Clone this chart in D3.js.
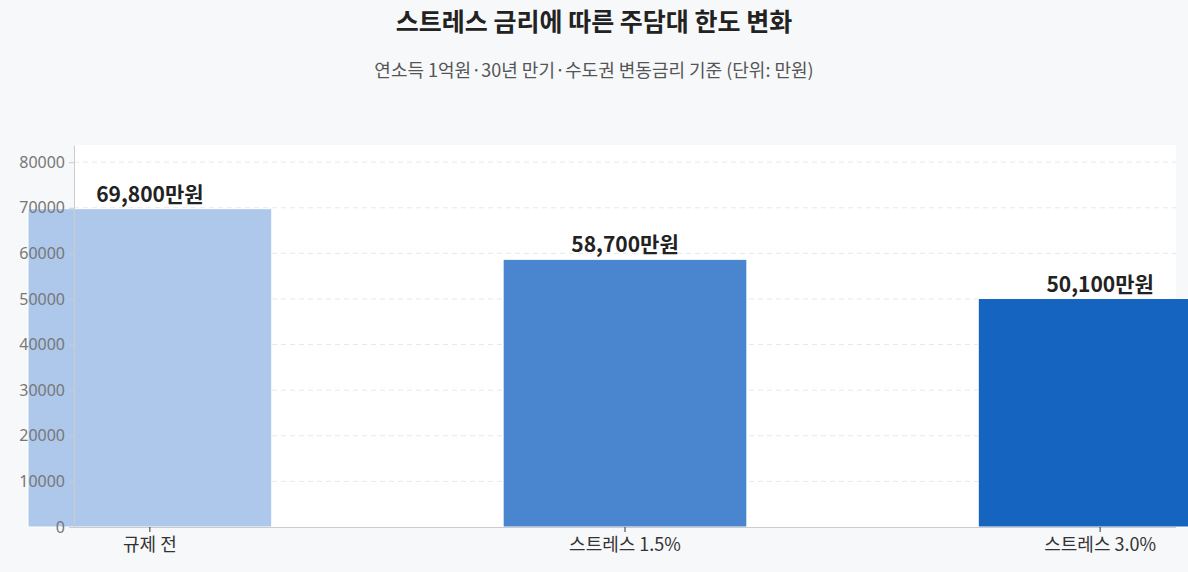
<!DOCTYPE html>
<html><head><meta charset="utf-8">
<script src="https://cdn.jsdelivr.net/npm/d3@7"></script>
<style>body{margin:0;background:#f7f8fa;font-family:"Noto Sans CJK KR","Noto Sans",sans-serif;}</style>
</head><body><svg id="c" width="1188" height="572"></svg>
<script>
const categories=["규제 전","스트레스 1.5%","스트레스 3.0%"];
const values=[69800,58700,50100];
const colors=["#aec8ec","#4a86d0","#1565c0"];
const yTicks=[0,10000,20000,30000,40000,50000,60000,70000,80000];
const svg=d3.select("#c");
const m={l:74,r:12,t:145,b:45};
const W=1188,H=572;
const x=d3.scaleBand().domain(categories).range([m.l-46,W-m.r+46]).paddingInner(0.487).paddingOuter(0);
const y=d3.scaleLinear().domain([0,69800*1.2]).range([H-m.b,m.t]);
svg.append("text").attr("x",W/2).attr("y",31).attr("text-anchor","middle").attr("font-size",25).attr("font-weight",700).attr("fill","#222").text("스트레스 금리에 따른 주담대 한도 변화");
svg.append("text").attr("x",W/2).attr("y",77).attr("text-anchor","middle").attr("font-size",18).attr("fill","#555").text("연소득 1억원·30년 만기·수도권 변동금리 기준 (단위: 만원)");
svg.append("rect").attr("x",m.l).attr("y",m.t).attr("width",W-m.r-m.l).attr("height",H-m.b-m.t).attr("fill","#fff");
svg.append("g").selectAll("line").data(yTicks.slice(1)).join("line").attr("x1",m.l).attr("x2",W-m.r).attr("y1",d=>y(d)).attr("y2",d=>y(d)).attr("stroke","#e6e8eb").attr("stroke-dasharray","5,4");
svg.append("g").selectAll("rect").data(values).join("rect").attr("x",(d,i)=>x(categories[i])).attr("width",x.bandwidth()).attr("y",d=>y(d)).attr("height",d=>y(0)-y(d)).attr("fill",(d,i)=>colors[i]).attr("stroke","#fff").attr("stroke-width",1);
svg.append("g").selectAll("text").data(values).join("text").attr("x",(d,i)=>x(categories[i])+x.bandwidth()/2).attr("y",d=>y(d)-7).attr("text-anchor","middle").attr("font-size",21).attr("font-weight",700).attr("fill","#222").text(d=>d3.format(",")(d)+"만원");
const ya=svg.append("g").attr("transform",`translate(${m.l},0)`).call(d3.axisLeft(y).tickValues(yTicks).tickFormat(d3.format("d")).tickSize(5).tickSizeOuter(0).tickPadding(4));
ya.selectAll("text").attr("font-size",16).attr("fill","#777").attr("font-family","'Noto Sans',sans-serif");
ya.selectAll("line,path").attr("stroke","#ccc");
const xa=svg.append("g").attr("transform",`translate(0,${H-m.b})`).call(d3.axisBottom(x).tickSize(5).tickSizeOuter(0).tickPadding(6));
xa.select("path").attr("d",`M${m.l},0.5H${W-m.r}`).attr("stroke","#ccc");
xa.selectAll("text").attr("font-size",18).attr("fill","#333").attr("font-family","'Noto Sans CJK KR',sans-serif");
xa.selectAll("line").attr("stroke","#333");
</script></body></html>
